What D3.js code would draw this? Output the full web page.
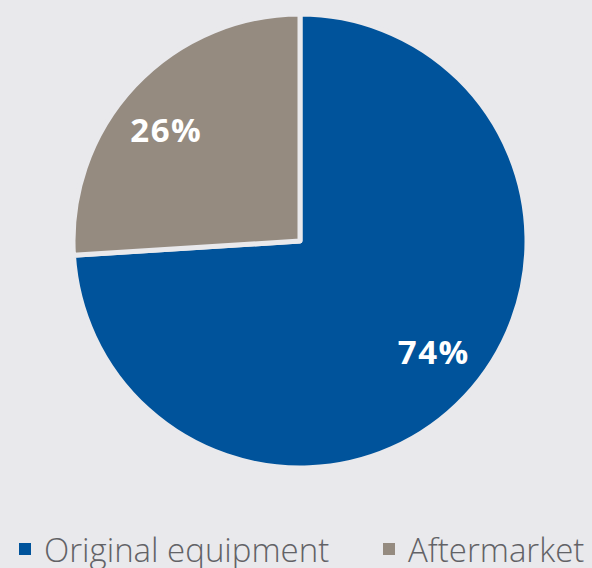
<!DOCTYPE html>
<html><head><meta charset="utf-8">
<script src="https://cdn.jsdelivr.net/npm/d3@7"></script>
<style>html,body{margin:0;padding:0;background:#e9e9ec;}</style>
</head><body>
<svg id="chart" width="592" height="568"></svg>
<script>
const categories = ["Original equipment", "Aftermarket"];
const values = [74, 26];
const labels = ["74%", "26%"];
const colors = ["#00539b", "#958b80"];

const svg = d3.select("#chart");
svg.append("rect").attr("width",592).attr("height",568).attr("fill","#e9e9ec");
const cx = 300, cy = 241, R = 227;
const g = svg.append("g").attr("transform",`translate(${cx},${cy})`);
const pie = d3.pie().sort(null).value(d=>d)(values);
const arc = d3.arc().innerRadius(0).outerRadius(R);
const labelArc = d3.arc().innerRadius(174).outerRadius(174);
g.selectAll("path").data(pie).join("path")
  .attr("d", arc)
  .attr("fill",(d,i)=>colors[i])
  .attr("stroke","#e9e9ec").attr("stroke-width",5).attr("stroke-linejoin","round");
g.selectAll("text").data(pie).join("text")
  .attr("transform",d=>`translate(${labelArc.centroid({startAngle:d.startAngle-0.06,endAngle:d.endAngle-0.06})})`)
  .attr("text-anchor","middle").attr("dy","0.36em")
  .attr("fill","#fff").attr("font-family","'Open Sans', sans-serif")
  .attr("font-weight",700).attr("font-size",33).attr("letter-spacing",1.5)
  .text((d,i)=>labels[i]);

const legend = svg.append("g");
const lx = [19, 383];
categories.forEach((c,i)=>{
  legend.append("rect").attr("x",lx[i]).attr("y",543).attr("width",12).attr("height",12).attr("fill",colors[i]);
  legend.append("text").attr("x",lx[i]+25).attr("y",562)
    .attr("font-family","'Open Sans', sans-serif").attr("font-weight",300).attr("font-size",33)
    .attr("fill","#626266").text(c);
});
</script>
</body></html>
